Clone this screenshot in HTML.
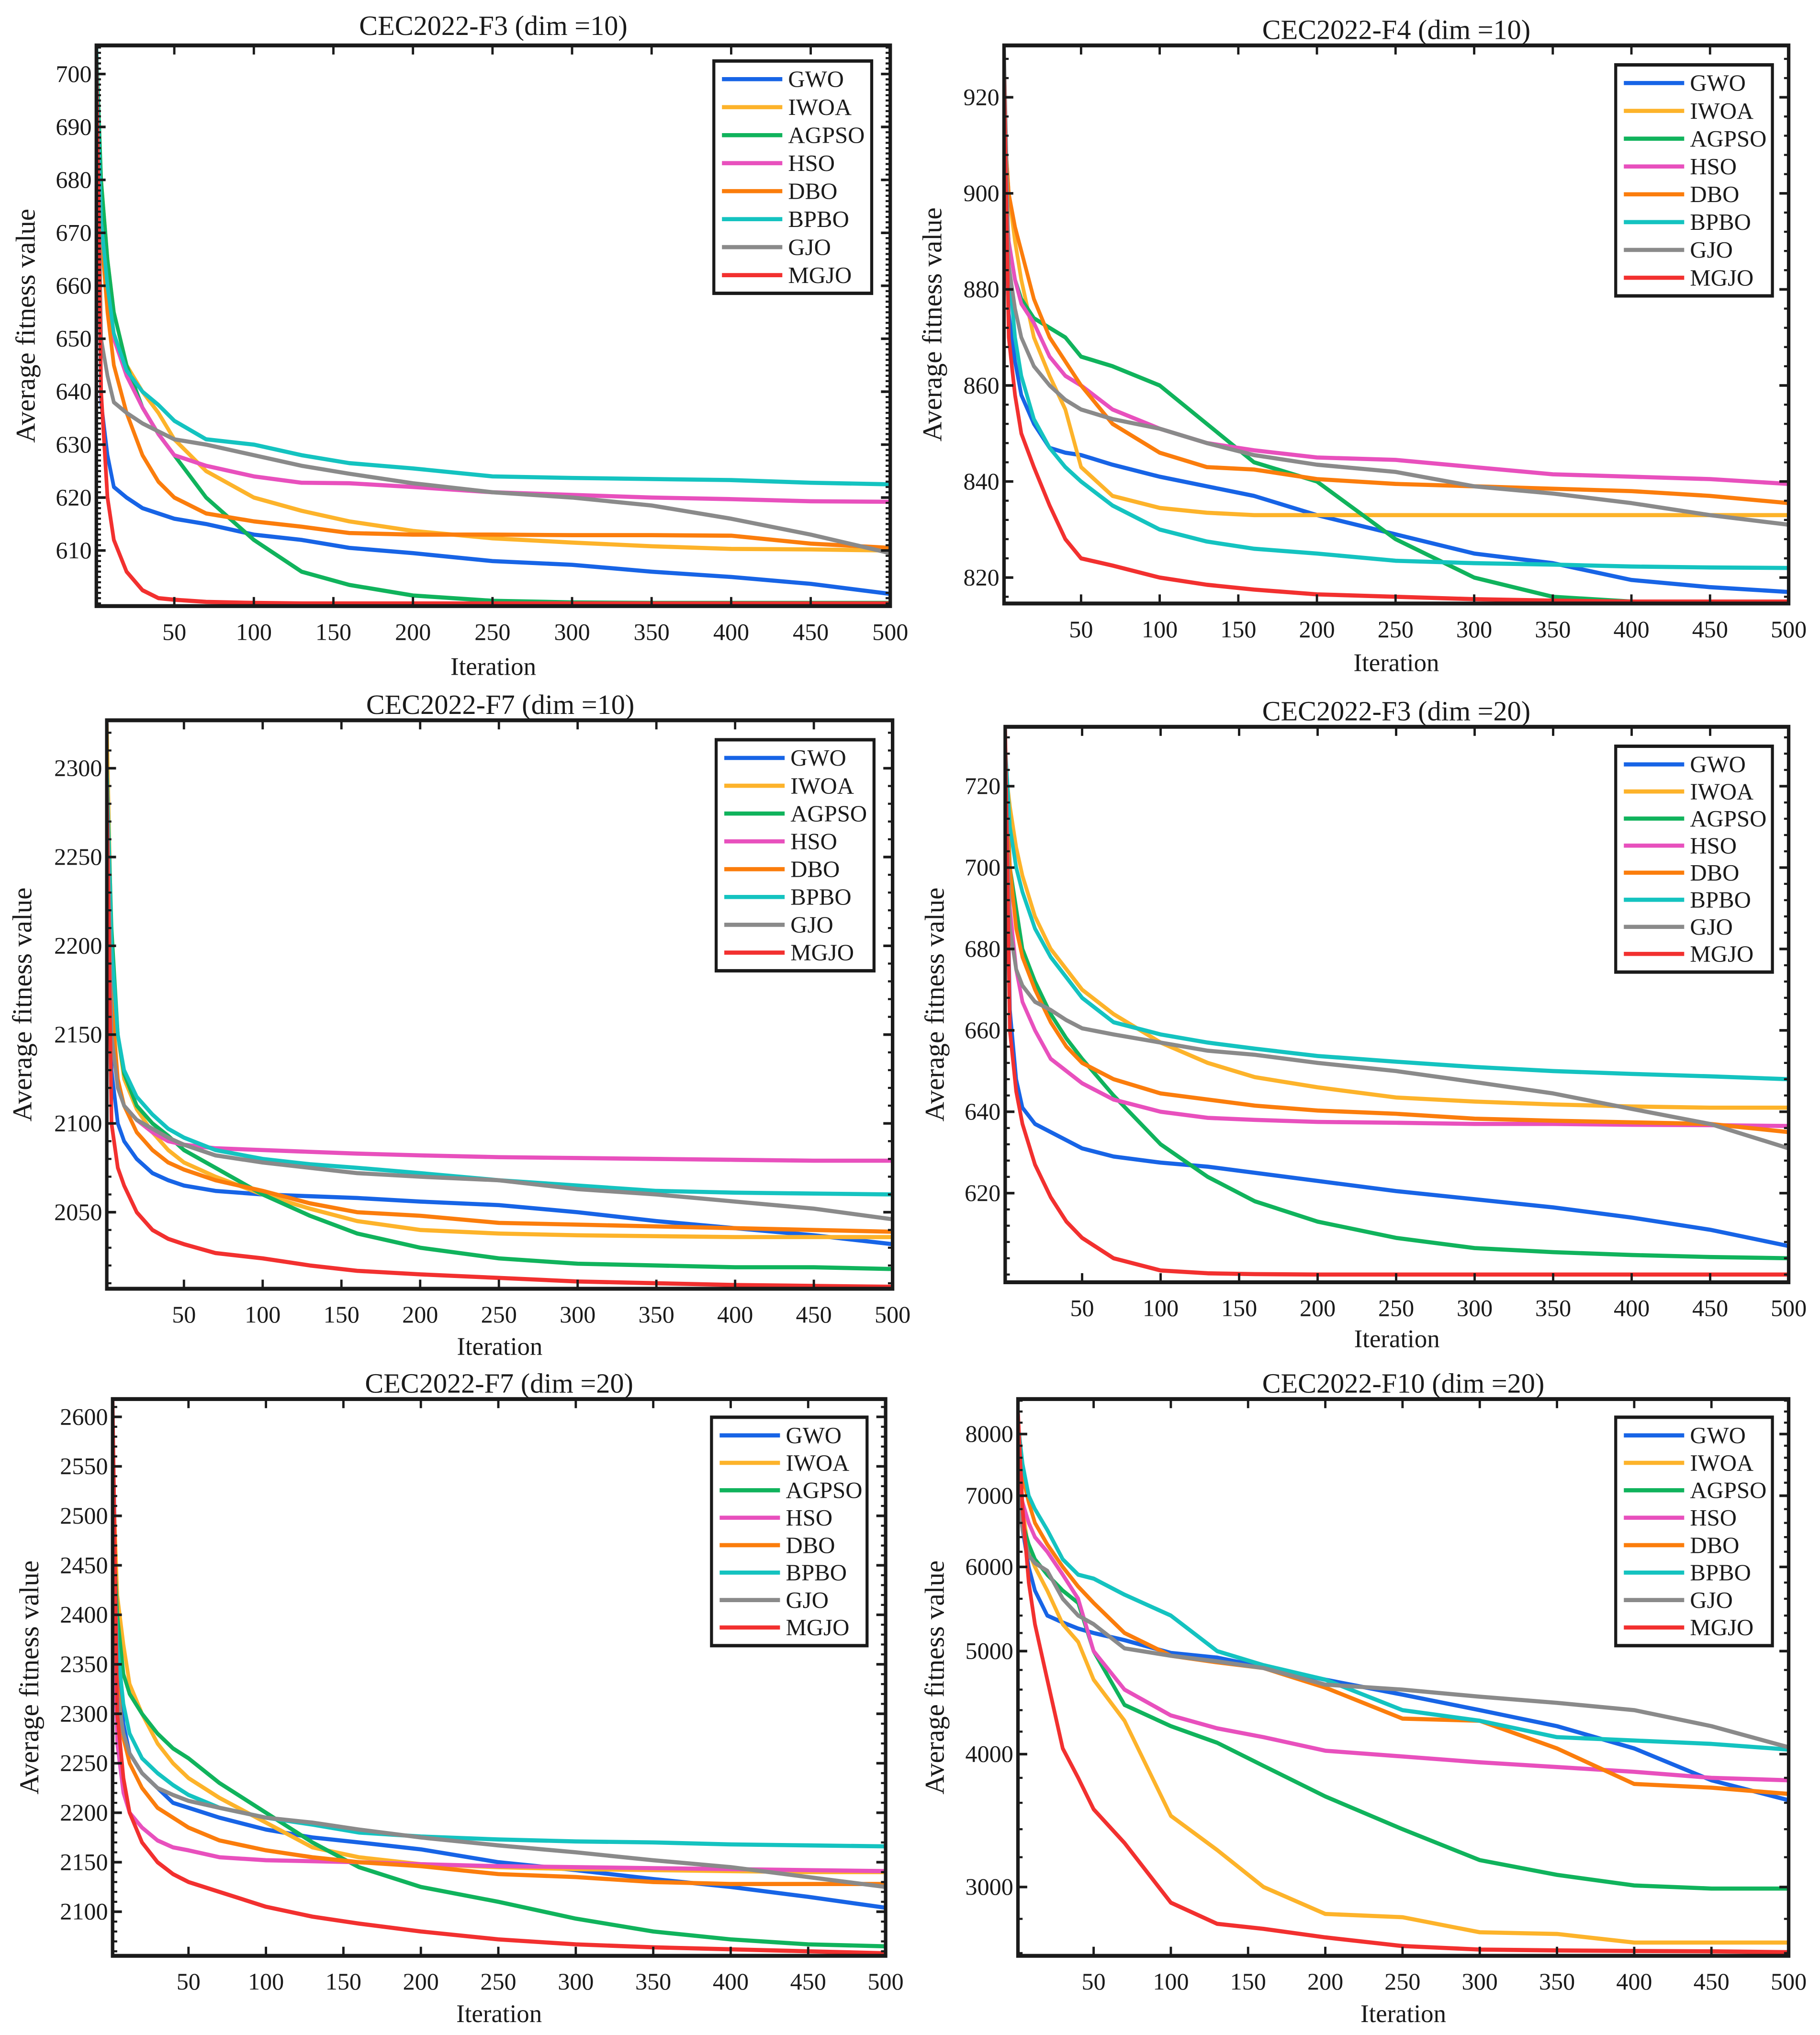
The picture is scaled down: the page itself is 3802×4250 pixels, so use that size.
<!DOCTYPE html>
<html><head><meta charset="utf-8"><title>CEC2022 convergence curves</title>
<style>
html,body{margin:0;padding:0;background:#fff;}
svg{display:block;}
text{font-family:"Liberation Serif","Times New Roman",serif;fill:#1a1a1a;}
</style></head>
<body>
<svg id="fig" xmlns="http://www.w3.org/2000/svg" width="3802" height="4250" viewBox="0 0 1568 1568" preserveAspectRatio="none">
<rect x="0" y="0" width="1568" height="1568" fill="#fff"/>
</svg>
<script>
// shared iteration axis samples
const iters = [1,4,8,12,20,30,40,50,70,100,130,160,200,250,300,350,400,450,500];
const algNames = ["GWO","IWOA","AGPSO","HSO","DBO","BPBO","GJO","MGJO"];

// Chart 1: CEC2022-F3 (dim=10)
const f3d10_gwo   = [705,638,628,622,620,618,617,616,615,613,612,610.5,609.5,608,607.3,606,605,603.7,601.8];
const f3d10_iwoa  = [690,680,665,655,645,640,636,631,625,620,617.5,615.5,613.7,612.3,611.5,610.8,610.3,610.2,610];
const f3d10_agpso = [705,680,665,655,645,637,632,628,620,612,606,603.5,601.5,600.5,600.2,600.1,600.1,600.1,600.1];
const f3d10_hso   = [685,672,660,650,643,637,632,628,626,624,622.8,622.7,622,621,620.5,620,619.7,619.3,619.2];
const f3d10_dbo   = [685,670,655,645,636,628,623,620,617,615.5,614.5,613.3,613,613,612.9,612.9,612.8,611.3,610.5];
const f3d10_bpbo  = [705,672,660,651,644,640,637.5,634.5,631,630,628,626.5,625.5,624,623.7,623.5,623.3,622.8,622.5];
const f3d10_gjo   = [703,650,643,638,636,634,632.5,631,630,628,626,624.5,622.7,621,620,618.5,616,613,609.5];
const f3d10_mgjo  = [703,640,620,612,606,602.5,601,600.7,600.3,600.1,600,600,600,600,600,600,600,600,600];
const f3d10_yticks = [610,620,630,640,650,660,670,680,690,700];

// Chart 2: CEC2022-F4 (dim=10)
const f4d10_gwo   = [900,875,865,858,852,847,846,845.5,843.5,841,839,837,833,829,825,823,819.5,818,817];
const f4d10_iwoa  = [915,900,890,882,870,862,855,843,837,834.5,833.5,833,833,833,833,833,833,833,833];
const f4d10_agpso = [905,890,882,878,874,872,870,866,864,860,852,844,840,828,820,816,815,815,815];
const f4d10_hso   = [905,890,882,877,873,866,862,860,855,851,848,846.5,845,844.5,843,841.5,841,840.5,839.5];
const f4d10_dbo   = [915,900,893,888,878,870,865,860,852,846,843,842.5,840.5,839.5,839,838.5,838,837,835.5];
const f4d10_bpbo  = [910,885,870,862,853,847,843,840,835,830,827.5,826,825,823.5,823,822.7,822.3,822.1,822];
const f4d10_gjo   = [930,885,876,870,864,860,857,855,853,851,848,845.5,843.5,842,839,837.5,835.5,833,831];
const f4d10_mgjo  = [924,870,858,850,843,835,828,824,822.5,820,818.5,817.5,816.5,816,815.5,815.2,815,815,815];
const f4d10_yticks = [820,840,860,880,900,920];

// Chart 3: CEC2022-F7 (dim=10)
const f7d10_gwo   = [2290,2130,2100,2090,2080,2072,2068,2065,2062,2060,2059,2058,2056,2054,2050,2045,2041,2037,2032];
const f7d10_iwoa  = [2325,2200,2150,2125,2108,2095,2085,2078,2070,2060,2052,2045,2040,2038,2037,2036.5,2036,2036,2036];
const f7d10_agpso = [2300,2210,2150,2128,2110,2100,2093,2085,2075,2060,2048,2038,2030,2024,2021,2020,2019,2019,2018];
const f7d10_hso   = [2280,2150,2120,2110,2102,2095,2090,2088,2086,2085,2084,2083,2082,2081,2080.5,2080,2079.5,2079,2079];
const f7d10_dbo   = [2300,2170,2125,2110,2095,2085,2078,2074,2068,2062,2055,2050,2048,2044,2043,2042,2041,2040,2039];
const f7d10_bpbo  = [2300,2200,2150,2130,2115,2105,2097,2092,2085,2080,2077,2075,2072,2068,2065,2062,2061,2060.5,2060];
const f7d10_gjo   = [2290,2150,2120,2110,2102,2097,2092,2088,2082,2078,2075,2072,2070,2068,2063,2060,2056,2052,2046];
const f7d10_mgjo  = [2290,2100,2075,2065,2050,2040,2035,2032,2027,2024,2020,2017,2015,2013,2011,2010,2009,2008.5,2008];
const f7d10_yticks = [2050,2100,2150,2200,2250,2300];

// Chart 4: CEC2022-F3 (dim=20)
const f3d20_gwo   = [730,665,648,641,637,635,633,631,629,627.5,626.5,625,623,620.5,618.5,616.5,614,611,607];
const f3d20_iwoa  = [725,715,705,698,688,680,675,670,664,657,652,648.5,646,643.5,642.5,641.8,641.3,641,641];
const f3d20_agpso = [730,700,690,680,672,664,658,653,644,632,624,618,613,609,606.5,605.5,604.8,604.3,604];
const f3d20_hso   = [720,690,675,667,660,653,650,647,643,640,638.5,638,637.5,637.3,637,637,636.8,636.7,636.5];
const f3d20_dbo   = [725,700,685,678,670,662,656,652,648,644.5,643,641.5,640.3,639.5,638.3,637.8,637.4,637,635];
const f3d20_bpbo  = [730,710,700,694,685,678,673,668,662,659,657,655.5,653.7,652.3,651,650,649.3,648.7,648];
const f3d20_gjo   = [725,685,675,671,667,665,662.5,660.5,659,657,655,654,652,650,647.3,644.5,640.7,637,631];
const f3d20_mgjo  = [734,660,645,637,627,619,613,609,604,601,600.3,600.1,600,600,600,600,600,600,600];
const f3d20_yticks = [620,640,660,680,700,720];

// Chart 5: CEC2022-F7 (dim=20)
const f7d20_gwo   = [2600,2350,2290,2260,2240,2225,2210,2205,2195,2183,2175,2170,2163,2150,2142,2133,2125,2115,2104];
const f7d20_iwoa  = [2550,2420,2370,2330,2300,2270,2250,2235,2215,2190,2165,2155,2148,2145,2143,2142,2141,2140,2140];
const f7d20_agpso = [2500,2400,2340,2320,2300,2280,2265,2255,2230,2200,2170,2145,2125,2110,2093,2080,2072,2067,2065];
const f7d20_hso   = [2450,2270,2220,2200,2185,2172,2165,2162,2155,2152,2151,2150,2148,2146,2145,2144,2143,2142,2141];
const f7d20_dbo   = [2500,2330,2275,2250,2225,2205,2195,2185,2172,2162,2155,2150,2146,2138,2135,2130,2128,2128,2128];
const f7d20_bpbo  = [2500,2370,2310,2280,2255,2240,2228,2218,2205,2195,2188,2180,2176,2173,2171,2170,2168,2167,2166];
const f7d20_gjo   = [2480,2320,2280,2260,2240,2225,2218,2212,2205,2195,2190,2183,2175,2167,2160,2152,2145,2135,2125];
const f7d20_mgjo  = [2618,2300,2235,2200,2170,2150,2138,2130,2120,2105,2095,2088,2080,2072,2067,2064,2062,2060,2058];
const f7d20_yticks = [2100,2150,2200,2250,2300,2350,2400,2450,2500,2550,2600];

// Chart 6: CEC2022-F10 (dim=20), log y
const f10d20_gwo   = [8400,6500,6000,5700,5400,5320,5250,5200,5120,4980,4930,4830,4700,4550,4400,4250,4050,3780,3620];
const f10d20_iwoa  = [7500,6800,6200,6000,5700,5300,5100,4700,4300,3500,3250,3000,2830,2810,2720,2710,2660,2660,2660];
const f10d20_agpso = [7500,6600,6300,6100,5900,5700,5550,5000,4450,4250,4100,3900,3650,3400,3180,3080,3010,2990,2990];
const f10d20_hso   = [7200,6900,6600,6400,6200,5900,5600,5000,4600,4350,4230,4150,4030,3980,3930,3890,3850,3800,3780];
const f10d20_dbo   = [7800,7300,6900,6600,6300,6000,5750,5550,5200,4950,4880,4820,4620,4320,4300,4050,3750,3720,3670];
const f10d20_bpbo  = [8200,7500,7000,6800,6500,6100,5900,5850,5650,5400,5000,4850,4700,4400,4300,4150,4120,4090,4040];
const f10d20_gjo   = [7000,6500,6150,6050,5950,5600,5400,5300,5030,4950,4890,4820,4650,4600,4530,4470,4400,4250,4060];
const f10d20_mgjo  = [8400,6800,5800,5300,4700,4050,3800,3550,3300,2900,2770,2740,2690,2640,2620,2615,2612,2610,2605];
const f10d20_yticks = [3000,4000,5000,6000,7000,8000];

const xTicks = [50,100,150,200,250,300,350,400,450,500];

const colors = ["#1764e6","#fdb32a","#10b35c","#e850bd","#fb7d0c","#14c3c0","#8a8a8a","#f2302f"];
const TX = 1.1178; // text counter-scale for non-uniform viewBox

const panels = [
 {id:"f3-dim10", title:"CEC2022-F3 (dim =10)", L:83,R:767,T:35,B:467, ymin:599.5,ymax:705.4, log:false,
  series:[f3d10_gwo,f3d10_iwoa,f3d10_agpso,f3d10_hso,f3d10_dbo,f3d10_bpbo,f3d10_gjo,f3d10_mgjo], yt:f3d10_yticks, minorStep:1,
  leg:[615,47,751,226], tx:425,ty:27, ylx:22, xly:520},
 {id:"f4-dim10", title:"CEC2022-F4 (dim =10)", L:865,R:1541,T:35,B:465, ymin:814.6,ymax:930.8, log:false,
  series:[f4d10_gwo,f4d10_iwoa,f4d10_agpso,f4d10_hso,f4d10_dbo,f4d10_bpbo,f4d10_gjo,f4d10_mgjo], yt:f4d10_yticks, minorStep:4,
  leg:[1392,50,1527,228], tx:1203,ty:30, ylx:803, xly:517},
 {id:"f7-dim10", title:"CEC2022-F7 (dim =10)", L:92,R:769,T:555,B:993, ymin:2006.9,ymax:2327, log:false,
  series:[f7d10_gwo,f7d10_iwoa,f7d10_agpso,f7d10_hso,f7d10_dbo,f7d10_bpbo,f7d10_gjo,f7d10_mgjo], yt:f7d10_yticks, minorStep:10,
  leg:[617,570,753,748], tx:431,ty:550, ylx:19, xly:1044},
 {id:"f3-dim20", title:"CEC2022-F3 (dim =20)", L:866,R:1541,T:560,B:988, ymin:598.1,ymax:734.6, log:false,
  series:[f3d20_gwo,f3d20_iwoa,f3d20_agpso,f3d20_hso,f3d20_dbo,f3d20_bpbo,f3d20_gjo,f3d20_mgjo], yt:f3d20_yticks, minorStep:4,
  leg:[1392,575,1527,749], tx:1203,ty:555, ylx:805, xly:1038},
 {id:"f7-dim20", title:"CEC2022-F7 (dim =20)", L:97,R:763,T:1078,B:1507, ymin:2055.4,ymax:2618, log:false,
  series:[f7d20_gwo,f7d20_iwoa,f7d20_agpso,f7d20_hso,f7d20_dbo,f7d20_bpbo,f7d20_gjo,f7d20_mgjo], yt:f7d20_yticks, minorStep:10,
  leg:[613,1092,747,1268], tx:430,ty:1073, ylx:25, xly:1558},
 {id:"f10-dim20", title:"CEC2022-F10 (dim =20)", L:877,R:1541,T:1078,B:1507, ymin:Math.pow(10,3.4124),ymax:Math.pow(10,3.936), log:true,
  series:[f10d20_gwo,f10d20_iwoa,f10d20_agpso,f10d20_hso,f10d20_dbo,f10d20_bpbo,f10d20_gjo,f10d20_mgjo], yt:f10d20_yticks, minorStep:200,
  leg:[1392,1092,1527,1268], tx:1209,ty:1073, ylx:805, xly:1558}
];

const NS = "http://www.w3.org/2000/svg";
const svg = document.getElementById("fig");
function mk(tag, attrs, parent){
  const e = document.createElementNS(NS, tag);
  for (const k in attrs) e.setAttribute(k, attrs[k]);
  (parent||svg).appendChild(e);
  return e;
}
function txt(parent, x, y, s, size, anchor, rot){
  const t = mk("text", {"font-size":size, "text-anchor":anchor||"middle",
    transform: "translate("+x+","+y+")"+(rot?" rotate(-90) scale(1,"+TX+")":" scale("+TX+",1)")}, parent);
  t.textContent = s;
  return t;
}

panels.forEach((p, pi) => {
  const g = mk("g", {});
  
  
  const xScale = v => p.L + (v - 1) / (500 - 1) * (p.R - p.L);
  const tf = v => p.log ? Math.log10(v) : v;
  const yScale = v => p.T + (tf(p.ymax) - tf(v)) / (tf(p.ymax) - tf(p.ymin)) * (p.B - p.T);

  const cp = mk("clipPath", {id:"clip"+pi}, g);
  mk("rect", {x:p.L, y:p.T, width:p.R-p.L, height:p.B-p.T}, cp);

  const sg = mk("g", {"clip-path":"url(#clip"+pi+")"}, g);
  p.series.forEach((vals, si) => {
    const pts = vals.map((v, i) => xScale(iters[i]).toFixed(2) + "," + yScale(v).toFixed(2)).join(" ");
    const pl = mk("polyline", {points:pts, fill:"none", stroke:colors[si], "stroke-width":3.2, "stroke-linejoin":"round"}, sg);
    
    
  });

  const lo = Math.ceil(p.ymin / p.minorStep) * p.minorStep;
  for (let v = lo; v <= p.ymax; v += p.minorStep) {
    const y = yScale(v);
    mk("line", {x1:p.L, x2:p.L+4, y1:y, y2:y, stroke:"#1a1a1a", "stroke-width":1.6}, g);
    mk("line", {x1:p.R, x2:p.R-4, y1:y, y2:y, stroke:"#1a1a1a", "stroke-width":1.6}, g);
  }
  p.yt.forEach(v => {
    const y = yScale(v);
    mk("line", {x1:p.L, x2:p.L+8, y1:y, y2:y, stroke:"#1a1a1a", "stroke-width":2}, g);
    mk("line", {x1:p.R, x2:p.R-8, y1:y, y2:y, stroke:"#1a1a1a", "stroke-width":2}, g);
    const t = txt(g, p.L-4, y+6, String(v), 18.5, "end");
    
    
  });
  xTicks.forEach(v => {
    const x = xScale(v);
    mk("line", {x1:x, x2:x, y1:p.B, y2:p.B-7, stroke:"#1a1a1a", "stroke-width":2}, g);
    mk("line", {x1:x, x2:x, y1:p.T, y2:p.T+7, stroke:"#1a1a1a", "stroke-width":2}, g);
    const t = txt(g, x, p.B+26, String(v), 18.5, "middle");
    
    
  });
  const fr = mk("rect", {x:p.L, y:p.T, width:p.R-p.L, height:p.B-p.T, fill:"none", stroke:"#1a1a1a", "stroke-width":3}, g);
  
  

  const tt = txt(g, p.tx, p.ty, p.title, 21.5, "middle");
  
  
  const xl = txt(g, (p.L+p.R)/2, p.xly, "Iteration", 19.5, "middle");
  
  
  const yl = txt(g, p.ylx + 8, (p.T+p.B)/2, "Average fitness value", 21, "middle", true);
  
  

  const [lx1, ly1, lx2, ly2] = p.leg;
  const lg = mk("g", {}, g);
  
  
  mk("rect", {x:lx1, y:ly1, width:lx2-lx1, height:ly2-ly1, fill:"#fff", stroke:"#1a1a1a", "stroke-width":2.6}, lg);
  const step = (ly2 - ly1 - 28) / 7;
  algNames.forEach((n, i) => {
    const y = ly1 + 14 + i * step;
    const eg = mk("g", {}, lg);
    
    
    mk("line", {x1:lx1+7, x2:lx1+59, y1:y, y2:y, stroke:colors[i], "stroke-width":3.2}, eg);
    txt(eg, lx1+64, y+6, n, 18, "start");
  });
});
</script>
</body></html>
